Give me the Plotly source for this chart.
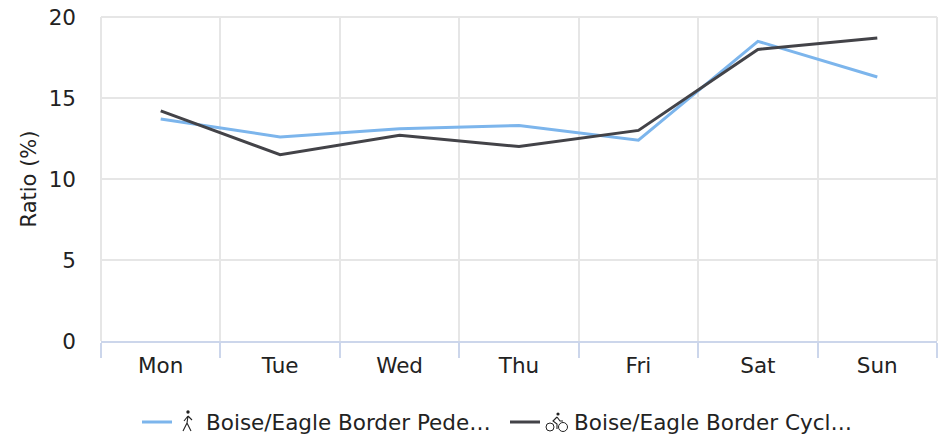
import plotly.graph_objects as go

days = ["Mon", "Tue", "Wed", "Thu", "Fri", "Sat", "Sun"]
pedestrian = [13.7, 12.6, 13.1, 13.3, 12.4, 18.5, 16.3]
cyclist = [14.2, 11.5, 12.7, 12.0, 13.0, 18.0, 18.7]
names = ["\u2002\u2002\u2005\u200aBoise/Eagle Border Pede…", "\u2002\u2002\u2005\u200aBoise/Eagle Border Cycl…"]
colors = ["#7cb5ec", "#434348"]
y_ticks = [0, 5, 10, 15, 20]

FONT = "DejaVu Sans, Inter, sans-serif"
TEXT = "#222222"
FS = 21.5
GRID = "#e6e6e6"
AXIS = "#ccd6eb"

W, H = 943, 437
L, R, T, B = 101, 6, 17, 96
PW, PH = W - L - R, H - T - B

fig = go.Figure()
for name, vals, col in zip(names, [pedestrian, cyclist], colors):
    fig.add_trace(go.Scatter(x=days, y=vals, name=name, mode="lines",
                             line=dict(color=col, width=3)))


def px_shape(ax, ay, **kw):
    """Shape sized in pixels, anchored at figure pixel (ax, ay)."""
    return dict(xref="paper", yref="paper", xsizemode="pixel", ysizemode="pixel",
                xanchor=(ax - L) / PW, yanchor=(T + PH - ay) / PH,
                layer="above", **kw)


ICON = "#222222"
icons = [
    # walker
    px_shape(188, 412, type="circle", x0=-1.7, x1=1.7, y0=-1.7, y1=1.7,
             fillcolor=ICON, line=dict(color=ICON, width=0)),
    px_shape(188, 412, type="path",
             path="M 0 -4 L -1 -11 L -5 -19 M -1 -11 L 3 -19 M 0 -4 L -4 -9 M 0 -4 L 4 -8",
             line=dict(color=ICON, width=1.1)),
    # cyclist
    px_shape(550, 427, type="circle", x0=-4, x1=4, y0=-4, y1=4, line=dict(color=ICON, width=1)),
    px_shape(563, 427, type="circle", x0=-4.5, x1=4.5, y0=-4.5, y1=4.5, line=dict(color=ICON, width=1)),
    px_shape(558, 414, type="circle", x0=-1.6, x1=1.6, y0=-1.6, y1=1.6,
             fillcolor=ICON, line=dict(color=ICON, width=0)),
    px_shape(558, 414, type="path",
             path="M -1 -3 L -5 -7 L -1 -10 L -1 -15 M -1 -3 L 2 -7 L 5 -7",
             line=dict(color=ICON, width=1.1)),
]
frame = [
    dict(type="line", xref="paper", yref="paper", x0=0, x1=1, y0=1, y1=1,
         line=dict(color=GRID, width=2), layer="below"),
    dict(type="line", xref="paper", yref="paper", x0=0, x1=0, y0=0, y1=1,
         line=dict(color=GRID, width=2), layer="below"),
    dict(type="line", xref="paper", yref="paper", x0=1, x1=1, y0=0, y1=1,
         line=dict(color=GRID, width=2), layer="below"),
]

fig.update_layout(
    width=W, height=H, autosize=False,
    margin=dict(l=L, r=R, t=T, b=B),
    paper_bgcolor="white", plot_bgcolor="white",
    font=dict(family=FONT, size=FS, color=TEXT),
    legend=dict(orientation="h", xref="container", yref="container",
                x=137 / W, xanchor="left", y=15 / H, yanchor="middle",
                bgcolor="rgba(0,0,0,0)",
                font=dict(family=FONT, size=FS, color=TEXT),
                itemwidth=30, traceorder="normal",
                entrywidth=323, entrywidthmode="pixels"),
    xaxis=dict(type="category", tickson="boundaries", ticks="outside", ticklen=15,
               tickwidth=2, tickcolor=AXIS, showline=True, linecolor=AXIS,
               linewidth=2, showgrid=True, gridcolor=GRID, gridwidth=2,
               range=[-0.5, 6.5], tickfont=dict(size=FS, color=TEXT), zeroline=False,
               ticklabelstandoff=4, automargin=False),
    yaxis=dict(range=[0, 20], tickvals=y_ticks, showgrid=True, gridcolor=GRID,
               gridwidth=2, zeroline=False, showline=False, ticks="", ticklabelstandoff=24,
               ticklabeloverflow="allow", tickfont=dict(size=FS, color=TEXT), automargin=False,
               title=dict(text="Ratio (%)", font=dict(size=21, color=TEXT), standoff=6)),
    shapes=frame + icons,
)
fig.write_html("out.html", config={"displayModeBar": False},
               post_script="document.body.style.margin='0';")
